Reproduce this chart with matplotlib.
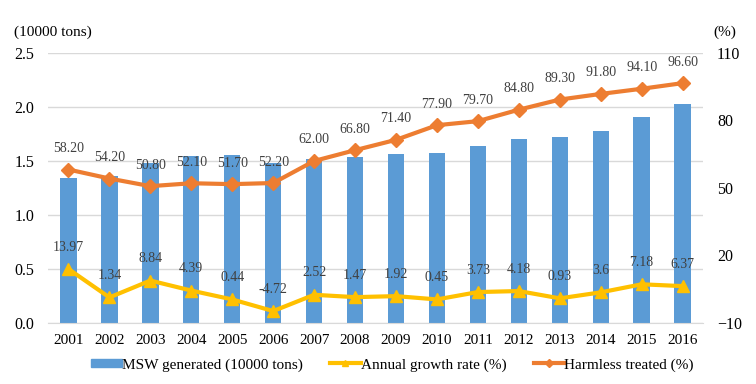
import numpy as np
import matplotlib.pyplot as plt
from matplotlib.lines import Line2D
from matplotlib.patches import Patch

plt.rcParams['font.family'] = ['Liberation Serif', 'DejaVu Serif']

years = ['2001', '2002', '2003', '2004', '2005', '2006', '2007', '2008',
         '2009', '2010', '2011', '2012', '2013', '2014', '2015', '2016']
msw = [1.343, 1.361, 1.481, 1.546, 1.553, 1.480, 1.517, 1.539,
       1.569, 1.576, 1.635, 1.703, 1.719, 1.781, 1.909, 2.030]
growth = [13.97, 1.34, 8.84, 4.39, 0.44, -4.72, 2.52, 1.47,
          1.92, 0.45, 3.73, 4.18, 0.93, 3.6, 7.18, 6.37]
growth_lbl = ['13.97', '1.34', '8.84', '4.39', '0.44', '-4.72', '2.52', '1.47',
              '1.92', '0.45', '3.73', '4.18', '0.93', '3.6', '7.18', '6.37']
harmless = [58.2, 54.2, 50.8, 52.1, 51.7, 52.2, 62.0, 66.8,
            71.4, 77.9, 79.7, 84.8, 89.3, 91.8, 94.1, 96.6]

blue = '#5B9BD5'
orange = '#ED7D31'
yellow = '#FFC000'
grey = '#404040'

fig = plt.figure(figsize=(7.56, 3.84), dpi=100)
ax = fig.add_axes([0.0635, 0.159, 0.8665, 0.703])
x = np.arange(len(years))

ax.bar(x, msw, width=0.4, color=blue, zorder=2)
ax.set_xlim(-0.5, len(years) - 0.5)
ax.set_ylim(0, 2.5)
ax.set_yticks([0, 0.5, 1.0, 1.5, 2.0, 2.5])
ax.set_yticklabels(['0.0', '0.5', '1.0', '1.5', '2.0', '2.5'])
ax.set_xticks(x)
ax.set_xticklabels(years)
ax.grid(axis='y', color='#D9D9D9', linewidth=1, zorder=0)
ax.set_axisbelow(True)
for s in ['left', 'right', 'top']:
    ax.spines[s].set_visible(False)
ax.spines['bottom'].set_color('#D9D9D9')
ax.tick_params(length=0, labelsize=11, pad=8)
ax.tick_params(axis='y', pad=10, labelsize=11.5)

ax2 = ax.twinx()
ax2.set_ylim(-10, 110)
ax2.set_yticks([-10, 20, 50, 80, 110])
for s in ['left', 'right', 'top', 'bottom']:
    ax2.spines[s].set_visible(False)
ax2.tick_params(length=0, labelsize=11.5, pad=10)

ax2.plot(x, growth, color=yellow, lw=3, marker='^', ms=9, zorder=3)
ax2.plot(x, harmless, color=orange, lw=3, marker='D', ms=7, zorder=4)

for i in range(len(years)):
    ax2.annotate(growth_lbl[i], (x[i], growth[i]), xytext=(0, 22),
                 textcoords='offset pixels', ha='center', va='center',
                 fontsize=10, color=grey)
    ax2.annotate('%.2f' % harmless[i], (x[i], harmless[i]), xytext=(0, 21),
                 textcoords='offset pixels', ha='center', va='center',
                 fontsize=10, color=grey)

fig.text(0.018, 0.915, '(10000 tons)', fontsize=11, va='center')
fig.text(0.943, 0.915, '(%)', fontsize=11, va='center')

handles = [Patch(color=blue),
           Line2D([], [], color=yellow, lw=3, marker='^', ms=5),
           Line2D([], [], color=orange, lw=3, marker='D', ms=4)]
labels = ['MSW generated (10000 tons)', 'Annual growth rate (%)', 'Harmless treated (%)']
fig.legend(handles, labels, loc='center', bbox_to_anchor=(0.519, 0.05), ncol=3,
           frameon=False, fontsize=11, handlelength=2.0, handletextpad=0.0,
           handleheight=0.5, columnspacing=1.8)

fig.savefig('out.png', dpi=100)
